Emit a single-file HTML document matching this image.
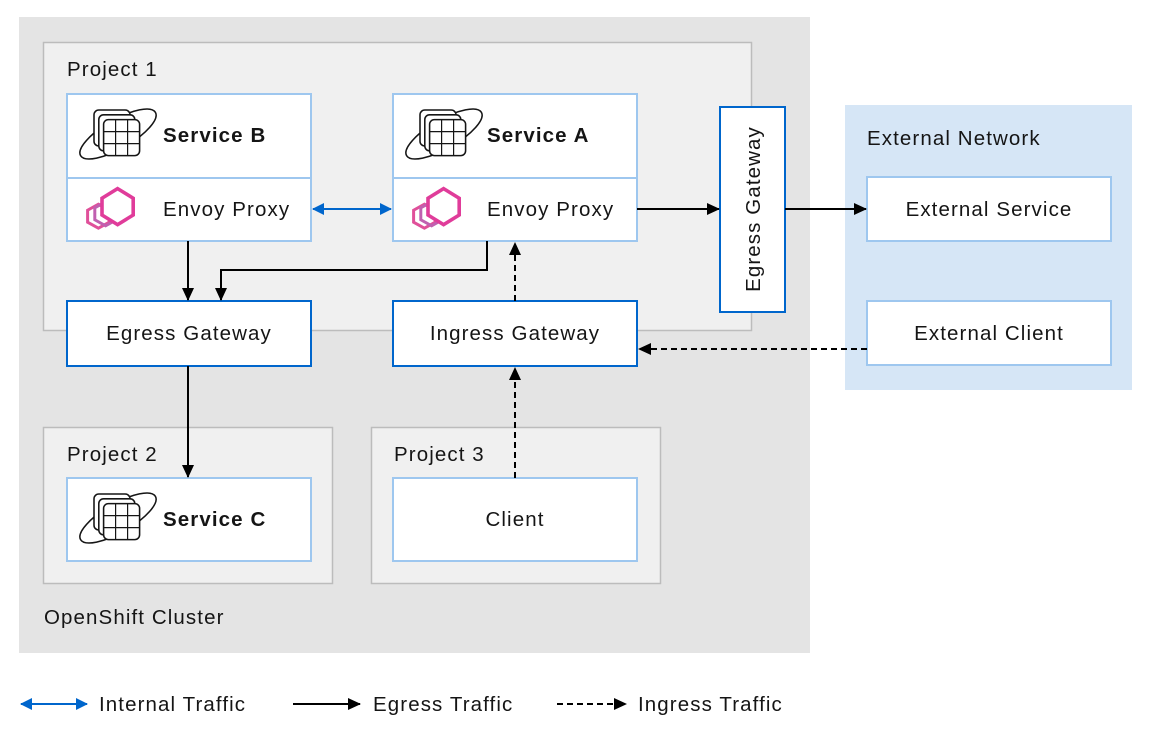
<!DOCTYPE html>
<html><head><meta charset="utf-8"><style>
body{margin:0;background:#fff;}
svg text{font-family:"Liberation Sans",sans-serif;fill:#151515;letter-spacing:1.1px;}
</style></head><body>
<svg width="1157" height="744" viewBox="0 0 1157 744" xmlns="http://www.w3.org/2000/svg">
<defs>
<marker id="ab" markerWidth="13" markerHeight="12" refX="12" refY="6" orient="auto-start-reverse" markerUnits="userSpaceOnUse"><path d="M0,0 L13,6 L0,12z" fill="#000"/></marker>
<marker id="bb" markerWidth="12" markerHeight="12" refX="11" refY="6" orient="auto-start-reverse" markerUnits="userSpaceOnUse"><path d="M0,0 L12,6 L0,12z" fill="#0066cc"/></marker>
<g id="svc" transform="scale(1.2)">
<ellipse cx="0" cy="0" rx="36" ry="12" transform="rotate(-30)" fill="none" stroke="#151515" stroke-width="1.3"/>
<rect x="-20" y="-20" width="30" height="30" rx="4" fill="#fff" stroke="#151515" stroke-width="1.3"/>
<rect x="-16" y="-16" width="30" height="30" rx="4" fill="#fff" stroke="#151515" stroke-width="1.3"/>
<rect x="-12" y="-12" width="30" height="30" rx="4" fill="#fff" stroke="#151515" stroke-width="1.3"/>
<path d="M-2,-12v30M8,-12v30M-12,-2h30M-12,8h30" stroke="#151515" stroke-width="1"/>
</g>
<g id="env" transform="scale(1.2)">
<polygon points="0,-10 9,-5 9,5 0,10 -9,5 -9,-5" transform="translate(-8,6)" fill="none" stroke="#e0509a" stroke-width="2.5"/>
<polygon points="0,-10 9,-5 9,5 0,10 -9,5 -9,-5" transform="translate(-2,4)" fill="none" stroke="#c060b0" stroke-width="2.5"/>
<polygon points="0,-15 13,-7 13,7 0,15 -13,7 -13,-7" transform="translate(8,-2)" fill="#fff" stroke="#e03c9a" stroke-width="3"/>
</g>
</defs>
<rect x="19" y="17" width="791" height="636" fill="#e4e4e4"/>
<rect x="43.5" y="42.5" width="708" height="288" fill="#f0f0f0" stroke="#bcbcbc" stroke-width="1.5"/>
<rect x="43.5" y="427.5" width="289" height="156" fill="#f0f0f0" stroke="#bcbcbc" stroke-width="1.5"/>
<rect x="371.5" y="427.5" width="289" height="156" fill="#f0f0f0" stroke="#bcbcbc" stroke-width="1.5"/>
<rect x="845" y="105" width="287" height="285" fill="#d6e6f6"/>
<g font-size="20.5">
<text x="67" y="76">Project 1</text>
<text x="67" y="461">Project 2</text>
<text x="394" y="461">Project 3</text>
<text x="44" y="624">OpenShift Cluster</text>
<text x="867" y="145">External Network</text>
</g>
<g fill="#fff" stroke="#9ec7ef" stroke-width="2">
<rect x="67" y="94" width="244" height="147"/><line x1="67" y1="178" x2="311" y2="178"/>
<rect x="393" y="94" width="244" height="147"/><line x1="393" y1="178" x2="637" y2="178"/>
<rect x="67" y="478" width="244" height="83"/>
<rect x="393" y="478" width="244" height="83"/>
<rect x="867" y="177" width="244" height="64"/>
<rect x="867" y="301" width="244" height="64"/>
</g>
<g fill="#fff" stroke="#0066cc" stroke-width="2">
<rect x="720" y="107" width="65" height="205"/>
<rect x="67" y="301" width="244" height="65"/>
<rect x="393" y="301" width="244" height="65"/>
</g>
<use href="#svc" x="118" y="134"/><use href="#svc" x="444" y="134"/><use href="#svc" x="118" y="518"/>
<use href="#env" x="108" y="209"/><use href="#env" x="434" y="209"/>
<g font-size="20.5">
<text x="163" y="142" font-weight="bold" letter-spacing="0.3">Service B</text>
<text x="487" y="142" font-weight="bold" letter-spacing="0.3">Service A</text>
<text x="163" y="216">Envoy Proxy</text>
<text x="487" y="216">Envoy Proxy</text>
<text x="163" y="526" font-weight="bold" letter-spacing="0.3">Service C</text>
<text x="515" y="526" text-anchor="middle">Client</text>
<text x="189" y="340" text-anchor="middle">Egress Gateway</text>
<text x="515" y="340" text-anchor="middle">Ingress Gateway</text>
<text x="989" y="216" text-anchor="middle">External Service</text>
<text x="989" y="340" text-anchor="middle">External Client</text>
<text transform="translate(760,209) rotate(-90)" text-anchor="middle">Egress Gateway</text>
</g>
<g stroke-width="2" fill="none">
<line x1="313" y1="209" x2="391" y2="209" stroke="#0066cc" marker-start="url(#bb)" marker-end="url(#bb)"/>
<g stroke="#000">
<line x1="637" y1="209" x2="719" y2="209" marker-end="url(#ab)"/>
<line x1="785" y1="209" x2="866" y2="209" marker-end="url(#ab)"/>
<line x1="188" y1="241" x2="188" y2="300" marker-end="url(#ab)"/>
<polyline points="487,241 487,270 221,270 221,300" marker-end="url(#ab)"/>
<line x1="188" y1="366" x2="188" y2="477" marker-end="url(#ab)"/>
<g stroke-dasharray="6,4">
<line x1="515" y1="301" x2="515" y2="243" marker-end="url(#ab)"/>
<line x1="515" y1="478" x2="515" y2="368" marker-end="url(#ab)"/>
<line x1="867" y1="349" x2="639" y2="349" marker-end="url(#ab)"/>
<line x1="557" y1="704" x2="626" y2="704" marker-end="url(#ab)"/>
</g>
<line x1="293" y1="704" x2="360" y2="704" marker-end="url(#ab)"/>
</g>
<line x1="21" y1="704" x2="87" y2="704" stroke="#0066cc" marker-start="url(#bb)" marker-end="url(#bb)"/>
</g>
<g font-size="20.5">
<text x="99" y="711">Internal Traffic</text>
<text x="373" y="711">Egress Traffic</text>
<text x="638" y="711">Ingress Traffic</text>
</g>
</svg>
</body></html>
